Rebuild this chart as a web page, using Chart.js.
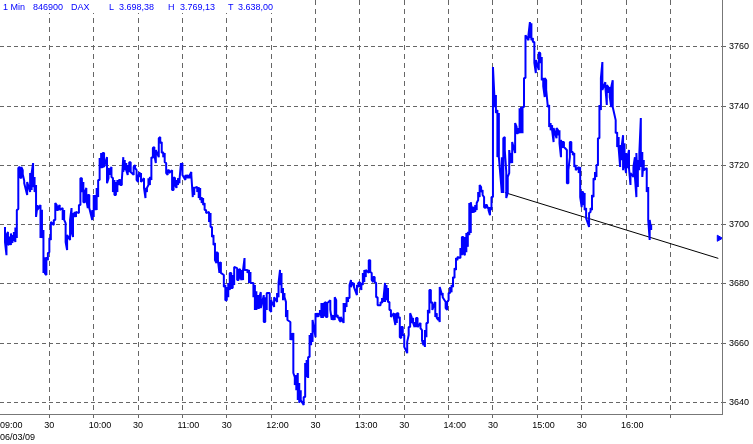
<!DOCTYPE html>
<html><head><meta charset="utf-8">
<script src="https://cdn.jsdelivr.net/npm/chart.js@4/dist/chart.umd.min.js"></script>
<style>html,body{margin:0;padding:0;background:#fff;}#wrap{width:753px;height:444px;}</style>
</head><body><div id="wrap"><canvas id="c" width="753" height="444"></canvas></div>
<script>
// minutes after 09:00, per-minute high and low (DAX, 1 Min, 06/03/09)
const minutes = [0,1,2,3,4,5,6,7,8,9,10,11,12,13,15,17,18,19,20,21,22,24,25,26,27,28,29,30,31,33,34,35,36,37,39,40,41,42,44,45,46,47,48,50,51,52,53,54,55,56,57,59,60,61,62,63,64,65,66,67,69,70,71,72,73,74,75,76,77,78,79,80,81,82,83,84,85,87,88,89,90,91,92,94,95,96,97,98,99,100,101,102,104,105,106,107,108,109,110,111,113,114,115,116,117,118,119,120,122,123,124,125,126,127,128,130,131,132,133,134,135,136,138,139,140,141,142,143,144,145,146,148,149,150,151,152,153,154,155,157,158,159,160,161,162,164,165,166,168,169,170,171,172,173,175,176,177,179,180,181,182,184,185,186,187,188,189,190,191,193,194,195,196,197,198,199,200,202,203,204,205,206,207,208,210,211,212,213,214,215,216,217,218,220,221,222,223,224,225,226,227,229,230,231,232,233,234,235,236,238,239,240,241,242,243,244,246,247,248,249,250,251,252,254,255,256,257,258,259,260,261,263,264,265,266,267,268,269,270,272,273,274,275,276,277,278,279,281,282,283,284,285,286,287,288,289,291,292,293,294,295,296,298,299,300,301,302,303,304,305,306,308,309,310,311,312,313,314,315,316,317,318,319,320,321,322,323,324,325,326,327,328,329,330,331,332,333,334,336,337,338,339,340,341,342,343,345,346,347,348,349,350,351,352,354,355,356,357,358,359,361,362,363,364,365,366,367,368,369,370,371,373,374,375,376,377,378,380,381,382,383,384,385,386,388,389,390,391,392,393,395,396,397,398,399,400,401,402,403,404,406,407,408,409,410,411,413,414,415,416,417,418,419,420,421,422,423,425,426,427,428,429,430,431,432,434,435,436,437];
const highs = [3699.2,3696.5,3697.5,3696.0,3697.0,3696.5,3697.5,3699.0,3704.9,3719.1,3719.5,3719.5,3718.4,3714.8,3714.4,3717.4,3717.4,3720.8,3716.1,3713.4,3706.6,3706.6,3705.0,3698.2,3689.0,3689.0,3690.4,3695.5,3700.9,3701.6,3707.3,3706.6,3706.0,3706.6,3705.6,3704.9,3700.5,3696.5,3701.6,3705.6,3703.9,3704.3,3704.3,3706.6,3715.7,3715.7,3714.4,3711.0,3712.4,3710.0,3710.0,3704.9,3710.0,3710.0,3712.4,3715.1,3722.5,3724.2,3724.2,3724.2,3722.8,3719.1,3718.4,3719.5,3715.7,3715.1,3714.4,3715.1,3715.1,3715.1,3714.8,3722.8,3721.8,3720.8,3720.1,3721.1,3721.1,3719.5,3720.1,3718.4,3716.1,3717.8,3717.4,3715.7,3712.4,3712.4,3715.7,3716.1,3722.8,3725.9,3726.2,3725.2,3729.2,3729.6,3727.9,3724.5,3724.2,3720.8,3718.4,3718.4,3718.4,3716.0,3715.7,3715.1,3715.7,3715.1,3720.8,3720.8,3716.8,3716.8,3716.8,3716.8,3717.8,3712.7,3712.4,3712.7,3712.7,3712.4,3709.3,3709.0,3707.3,3704.9,3704.3,3703.9,3699.2,3696.5,3693.8,3690.7,3690.4,3687.0,3687.3,3683.0,3679.6,3678.9,3680.3,3683.7,3683.7,3683.0,3685.7,3685.3,3684.7,3685.0,3684.7,3684.7,3688.7,3684.7,3684.7,3684.0,3680.3,3679.6,3677.5,3676.2,3675.5,3677.2,3676.2,3675.5,3676.9,3676.9,3674.5,3673.9,3675.5,3676.9,3680.3,3684.7,3683.7,3678.6,3676.9,3673.9,3671.2,3667.1,3663.4,3663.4,3648.5,3649.2,3649.9,3646.5,3644.1,3641.8,3653.3,3654.3,3655.3,3662.7,3663.4,3667.8,3670.1,3670.1,3670.1,3671.2,3673.5,3673.5,3673.5,3673.9,3673.5,3674.5,3669.5,3669.5,3675.5,3674.5,3669.5,3668.8,3668.8,3673.5,3673.5,3675.5,3675.2,3679.6,3681.3,3680.6,3680.3,3679.6,3680.3,3680.6,3680.3,3683.7,3684.7,3684.7,3688.0,3688.0,3683.7,3682.3,3682.3,3680.3,3675.5,3673.9,3675.2,3675.2,3680.3,3679.6,3678.6,3673.9,3671.2,3670.1,3670.1,3670.1,3670.1,3668.8,3665.4,3665.4,3662.7,3660.4,3665.4,3670.1,3668.8,3668.5,3667.1,3668.5,3668.5,3666.8,3664.4,3661.0,3664.4,3666.8,3671.2,3677.9,3677.9,3673.9,3673.9,3670.1,3668.8,3678.9,3677.2,3676.9,3673.9,3673.9,3676.9,3678.9,3679.6,3682.3,3685.3,3688.7,3689.1,3692.1,3695.8,3695.8,3695.8,3697.2,3697.5,3707.3,3707.6,3706.0,3706.0,3706.6,3707.3,3711.0,3713.4,3712.7,3711.7,3709.3,3706.6,3706.6,3705.9,3705.9,3709.3,3753.2,3743.1,3743.8,3738.7,3737.7,3722.8,3729.2,3729.6,3717.8,3716.1,3725.2,3724.2,3727.9,3734.3,3733.0,3732.6,3739.3,3739.7,3739.7,3749.5,3764.0,3764.0,3768.4,3768.0,3763.0,3761.7,3755.6,3758.2,3757.9,3756.6,3749.5,3749.5,3748.8,3740.4,3740.4,3734.3,3733.6,3732.6,3732.6,3731.9,3731.9,3728.6,3727.9,3727.9,3725.2,3718.4,3727.9,3727.9,3724.5,3724.2,3720.1,3719.5,3719.5,3711.0,3711.0,3710.7,3705.6,3703.9,3705.6,3710.0,3715.7,3717.8,3720.1,3729.2,3740.4,3749.5,3754.9,3748.1,3747.1,3746.5,3746.5,3746.5,3748.8,3735.3,3731.2,3729.6,3726.9,3726.2,3730.2,3727.5,3724.2,3722.8,3725.2,3717.4,3719.5,3722.8,3724.2,3721.8,3724.2,3736.0,3724.5,3721.8,3719.1,3712.7,3701.6,3699.9];
const lows = [3694.1,3689.7,3693.1,3693.5,3693.1,3693.8,3694.5,3694.1,3695.5,3705.3,3716.0,3715.7,3717.0,3714.0,3710.0,3711.0,3711.7,3712.7,3711.0,3702.6,3705.0,3695.5,3695.5,3683.7,3683.5,3683.0,3688.0,3690.7,3694.8,3699.9,3701.6,3704.9,3704.9,3705.0,3701.6,3701.6,3694.1,3691.4,3694.8,3697.5,3695.8,3702.6,3702.6,3703.9,3706.6,3711.0,3707.6,3707.6,3708.3,3705.6,3705.6,3701.6,3702.6,3704.9,3704.9,3709.3,3715.1,3719.1,3719.1,3719.5,3714.0,3715.7,3716.8,3716.1,3711.0,3710.0,3710.0,3711.0,3713.4,3713.4,3713.4,3717.8,3718.4,3718.4,3716.8,3717.8,3717.8,3716.8,3719.1,3715.1,3714.4,3716.1,3714.4,3712.4,3709.0,3711.0,3713.4,3713.4,3715.1,3722.5,3723.5,3720.8,3722.8,3727.5,3724.2,3722.8,3721.1,3717.4,3716.8,3717.4,3711.7,3711.7,3713.4,3712.4,3713.4,3714.0,3718.4,3716.8,3715.1,3715.7,3715.7,3715.7,3716.8,3709.3,3710.0,3711.0,3709.0,3708.3,3707.3,3706.6,3704.9,3703.9,3700.9,3699.2,3695.8,3693.1,3688.0,3687.0,3688.0,3683.7,3683.7,3678.9,3674.5,3674.5,3675.5,3677.9,3678.6,3678.6,3679.6,3681.3,3681.3,3682.3,3681.3,3681.3,3684.7,3683.7,3680.3,3680.3,3675.5,3671.2,3671.2,3671.8,3671.8,3671.8,3667.1,3667.1,3671.2,3671.2,3670.5,3672.8,3672.2,3673.9,3675.5,3679.6,3676.9,3674.5,3675.5,3668.8,3667.8,3661.0,3661.0,3649.9,3645.8,3644.1,3640.8,3639.8,3640.8,3639.1,3641.8,3648.5,3648.2,3655.3,3659.3,3660.4,3662.0,3668.8,3668.8,3669.5,3668.5,3668.5,3669.0,3668.8,3668.8,3671.2,3667.8,3667.8,3667.8,3668.8,3668.5,3667.8,3667.1,3666.8,3670.5,3672.2,3673.9,3675.2,3678.9,3679.6,3678.9,3676.2,3678.9,3679.6,3677.9,3679.6,3680.6,3682.3,3683.7,3684.0,3681.3,3680.6,3680.6,3675.5,3672.8,3672.8,3673.5,3673.9,3673.9,3674.5,3673.9,3671.2,3668.8,3668.5,3666.1,3666.8,3668.5,3662.0,3661.7,3662.7,3658.7,3656.6,3662.7,3665.4,3666.8,3666.8,3665.4,3665.4,3665.4,3665.0,3661.0,3659.3,3658.7,3662.0,3666.8,3670.1,3673.5,3671.2,3668.8,3668.5,3667.8,3667.1,3676.2,3675.5,3671.8,3671.2,3674.5,3676.9,3677.2,3678.9,3682.0,3684.7,3688.0,3688.7,3689.7,3690.4,3689.7,3690.7,3692.5,3696.5,3697.2,3704.0,3704.0,3704.3,3704.9,3708.3,3709.3,3711.0,3710.0,3705.9,3705.6,3705.6,3704.9,3703.2,3704.9,3709.3,3739.7,3737.7,3722.8,3722.8,3710.7,3710.7,3725.2,3709.0,3710.7,3717.4,3720.8,3720.8,3724.2,3730.9,3730.9,3730.9,3730.9,3730.9,3739.7,3749.5,3762.3,3763.0,3762.3,3761.7,3754.6,3751.2,3752.2,3754.6,3748.8,3746.8,3743.1,3745.5,3739.7,3733.0,3731.9,3731.9,3727.9,3729.2,3730.2,3727.5,3722.8,3725.9,3726.2,3714.0,3714.0,3722.8,3724.5,3723.5,3719.5,3718.4,3717.4,3709.3,3705.9,3706.6,3704.9,3702.2,3699.2,3704.3,3704.9,3709.3,3715.1,3716.1,3720.1,3729.2,3738.7,3745.5,3746.5,3740.4,3744.5,3743.1,3739.7,3739.7,3730.9,3726.2,3725.9,3719.5,3721.8,3718.4,3720.8,3717.4,3719.1,3719.1,3713.4,3716.1,3716.1,3709.3,3712.7,3718.4,3719.5,3716.1,3718.4,3711.0,3701.6,3694.8,3698.2];
const timeTicks = [0,30,60,90,120,150,180,210,240,270,300,330,360,390,420,450];
const timeLabels = ["09:00","30","10:00","30","11:00","30","12:00","30","13:00","30","14:00","30","15:00","30","16:00",""];
const priceTicks = [3640,3660,3680,3700,3720,3740,3760];
const trendMinutes = [338.2, 482.4];
const trendPrices = [3710.8, 3688.6];
const lastPriceMinute = [482.9];
const lastPrice = [3695.4];
const headerTexts = ["1 Min","846900","DAX","L","3.698,38","H","3.769,13","T","3.638,00"];
const dateLabel = "06/03/09";

const pricePath = [];
for (let i = 0; i < minutes.length; i++) {
  const mid = (highs[i] + lows[i]) / 2;
  const nextMid = i + 1 < minutes.length ? (highs[i+1] + lows[i+1]) / 2 : mid;
  if (nextMid >= mid) pricePath.push({x: minutes[i], y: lows[i]}, {x: minutes[i], y: highs[i]});
  else pricePath.push({x: minutes[i], y: highs[i]}, {x: minutes[i], y: lows[i]});
}
const trendPath = trendMinutes.map((m, i) => ({x: m, y: trendPrices[i]}));
const lastPath = lastPriceMinute.map((m, i) => ({x: m, y: lastPrice[i]}));

const FONT = 'Liberation Sans, Arial, sans-serif';
const headerPlugin = {
  id: 'header',
  afterDraw(chart) {
    const ctx = chart.ctx;
    const xs = [3,33,71,109,119,168,180,228,238];
    ctx.save();
    ctx.fillStyle = '#fff';
    ctx.fillRect(0, 0, 280, 13);
    ctx.fillStyle = '#0000ff';
    ctx.font = '9px ' + FONT;
    ctx.textBaseline = 'alphabetic';
    ctx.textAlign = 'left';
    headerTexts.forEach((t, i) => ctx.fillText(t, xs[i], 10));
    ctx.fillStyle = '#000';
    ctx.fillText(dateLabel, 0, 440);
    ctx.restore();
  }
};

new Chart(document.getElementById('c'), {
  type: 'line',
  data: {
    datasets: [
      {data: lastPath, showLine: false, pointStyle: 'triangle', rotation: 90, pointRadius: 3.5,
       pointBackgroundColor: '#0000ff', pointBorderColor: '#0000ff', pointBorderWidth: 1},
      {data: pricePath, borderColor: '#0000ff', borderWidth: 2, pointRadius: 0, tension: 0,
       borderJoinStyle: 'bevel', fill: false},
      {data: trendPath, borderColor: '#000', borderWidth: 1, pointRadius: 0, tension: 0, fill: false}
    ]
  },
  options: {
    responsive: false, animation: false, devicePixelRatio: 1,
    layout: {padding: 0, autoPadding: false},
    plugins: {legend: {display: false}, tooltip: {enabled: false}, title: {display: false}},
    scales: {
      x: {
        type: 'linear', position: 'bottom', min: -3.38, max: 484.9, bounds: 'data',
        afterBuildTicks: s => { s.ticks = timeTicks.map(v => ({value: v})); },
        afterFit: s => { s.height = 30; s.paddingLeft = 0; s.paddingRight = 0; },
        ticks: {
          autoSkip: false, maxRotation: 0, align: 'start', labelOffset: -5, padding: 2,
          color: '#000', font: {family: FONT, size: 9},
          callback: v => timeLabels[timeTicks.indexOf(v)]
        },
        grid: {
          color: c => (c.tick && c.tick.value === 0) ? 'rgba(0,0,0,0)' : '#666',
          tickColor: c => (c.tick && c.tick.value === 0) ? 'rgba(0,0,0,0)' : '#666',
          tickLength: 4, lineWidth: 1
        },
        border: {display: true, color: '#777', width: 1, dash: [5, 4]}
      },
      y: {
        type: 'linear', position: 'right', min: 3636.04, max: 3775.87, bounds: 'data',
        afterBuildTicks: s => { s.ticks = priceTicks.map(v => ({value: v})); },
        afterFit: s => { s.width = 31; s.paddingTop = 0; s.paddingBottom = 0; },
        ticks: {color: '#000', font: {family: FONT, size: 9}, padding: 3, callback: v => String(v)},
        grid: {color: '#666', tickColor: '#666', tickLength: 4, lineWidth: 1},
        border: {display: true, color: '#777', width: 1, dash: [4, 3]}
      }
    }
  },
  plugins: [headerPlugin]
});
</script></body></html>
